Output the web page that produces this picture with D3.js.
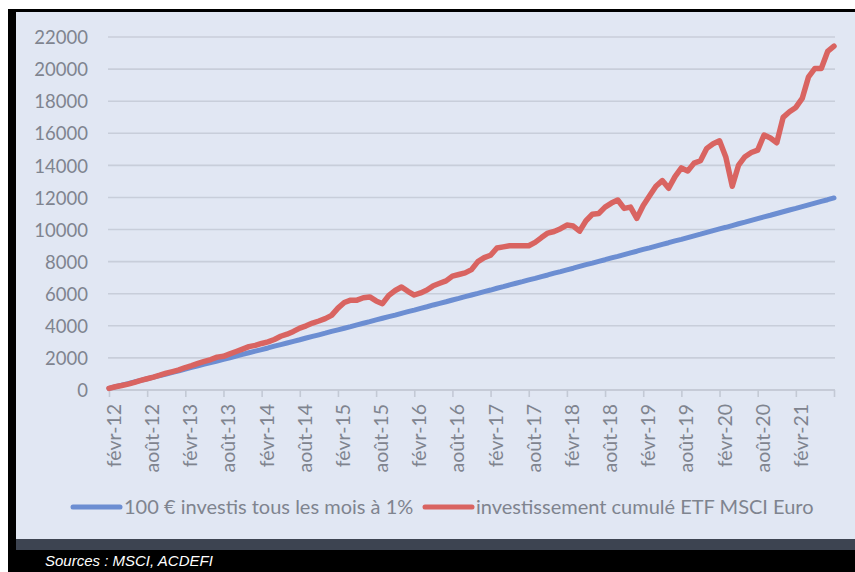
<!DOCTYPE html>
<html>
<head>
<meta charset="utf-8">
<script src="https://cdn.jsdelivr.net/npm/d3@7"></script>
<style>
  html, body { margin: 0; padding: 0; background: #ffffff; }
  svg { display: block; }
</style>
</head>
<body>
<svg id="chart" width="855" height="572"></svg>
<script>
// ---- DATA ----
const tickLabels = ["févr-12","août-12","févr-13","août-13","févr-14","août-14","févr-15","août-15",
  "févr-16","août-16","févr-17","août-17","févr-18","août-18","févr-19","août-19","févr-20","août-20","févr-21"];

const yTicks = [0,2000,4000,6000,8000,10000,12000,14000,16000,18000,20000,22000];

const seriesNames = ["100 € investis tous les mois à 1%", "investissement cumulé ETF MSCI Euro"];

// monthly values, févr-12 .. août-21 (115 months)
const investis = [
  100,200,300,400,500,600,700,800,900,1000,1100,1200,1310,1410,1510,1610,1710,1810,1910,2010,
  2120,2220,2320,2420,2520,2620,2730,2830,2930,3030,3130,3240,3340,3440,3540,3650,3750,3850,3950,4060,
  4160,4260,4370,4470,4570,4670,4780,4880,4980,5090,5190,5300,5400,5500,5610,5710,5820,5920,6020,6130,
  6230,6340,6440,6550,6650,6750,6860,6960,7070,7170,7280,7380,7490,7590,7700,7810,7910,8020,8120,8230,
  8330,8440,8550,8650,8760,8860,8970,9080,9180,9290,9390,9500,9610,9710,9820,9930,10040,10140,10250,10360,
  10460,10570,10680,10790,10890,11000,11110,11220,11320,11430,11540,11650,11760,11860,11970
];

const etf = [
  100,200,280,370,480,600,700,800,920,1050,1150,1250,1400,1520,1660,1780,1900,2050,2100,2250,
  2400,2550,2700,2780,2900,3000,3150,3350,3480,3650,3860,4000,4170,4300,4450,4650,5100,5450,5600,5600,
  5750,5800,5550,5380,5900,6200,6420,6150,5920,6050,6230,6500,6650,6800,7100,7200,7300,7500,8000,8250,
  8400,8850,8920,8990,8990,8990,8990,9200,9500,9780,9880,10050,10280,10220,9900,10550,10950,11000,11400,11650,
  11840,11320,11400,10700,11500,12100,12700,13050,12570,13300,13840,13650,14140,14290,15060,15350,15530,14500,12700,14020,
  14540,14800,14950,15890,15700,15410,16990,17340,17610,18170,19520,20040,20040,21100,21430
];

// ---- LAYOUT ----
const W = 855, H = 572;
const svg = d3.select("#chart");

// outer frame
svg.append("rect").attr("x", 8).attr("y", 9).attr("width", W - 8).attr("height", H - 9).attr("fill", "#000000");
svg.append("rect").attr("x", 16).attr("y", 12).attr("width", W - 16).attr("height", 527).attr("fill", "#E1E7F3");
svg.append("rect").attr("x", 16).attr("y", 539).attr("width", W - 16).attr("height", 11).attr("fill", "#3D4451");

const x = d3.scaleLinear().domain([0, investis.length - 1]).range([109, 834]);
const y = d3.scaleLinear().domain([0, 22000]).range([390, 37]);

const textColor = "#7F848F";
const font = "Lato, 'Open Sans', sans-serif";

// gridlines
svg.append("g")
  .selectAll("line")
  .data(yTicks)
  .join("line")
  .attr("x1", 108).attr("x2", 835)
  .attr("y1", d => y(d)).attr("y2", d => y(d))
  .attr("stroke", "#C8CEDA")
  .attr("stroke-width", 1.6);

// y axis labels
const yAxis = d3.axisLeft(y).tickValues(yTicks).tickSize(0).tickPadding(0).tickFormat(d3.format("d"));
const gy = svg.append("g").attr("transform", "translate(88,0)").call(yAxis);
gy.select(".domain").remove();
gy.selectAll("text")
  .attr("fill", textColor)
  .style("font-family", font)
  .style("font-size", "18.5px")
  .attr("x", 0)
  .attr("dy", "0.36em");

// x axis
const tickIdx = d3.range(0, investis.length, 6);
const xAxis = d3.axisBottom(x).tickValues(tickIdx).tickSize(7).tickFormat(i => tickLabels[i / 6] || "");
const gx = svg.append("g").attr("transform", "translate(0,390)").call(xAxis);
gx.select(".domain").attr("stroke", "#C3C9D5").attr("stroke-width", 1.6).attr("d", `M108,0H835`);
gx.selectAll(".tick line").attr("stroke", "#C3C9D5").attr("stroke-width", 1.6);
gx.selectAll("text")
  .attr("fill", textColor)
  .style("font-family", font)
  .style("font-size", "19.5px")
  .attr("text-anchor", "end")
  .attr("transform", "translate(11.5,14) rotate(-90)")
  .attr("x", 0).attr("y", 0).attr("dy", 0);

// lines
const line = d3.line().x((d, i) => x(i)).y(d => y(d)).curve(d3.curveLinear);
svg.append("path").datum(investis)
  .attr("d", line).attr("fill", "none")
  .attr("stroke", "#6C8ED2").attr("stroke-width", 5)
  .attr("stroke-linejoin", "round").attr("stroke-linecap", "round");
svg.append("path").datum(etf)
  .attr("d", line).attr("fill", "none")
  .attr("stroke", "#D96461").attr("stroke-width", 5.5)
  .attr("stroke-linejoin", "round").attr("stroke-linecap", "round");

// legend
const legend = [
  { name: seriesNames[0], color: "#6C8ED2", x0: 71 },
  { name: seriesNames[1], color: "#D96461", x0: 423 }
];
const lg = svg.append("g");
legend.forEach(l => {
  lg.append("line").attr("x1", l.x0 + 2).attr("x2", l.x0 + 49).attr("y1", 507).attr("y2", 507)
    .attr("stroke", l.color).attr("stroke-width", 5).attr("stroke-linecap", "round");
  lg.append("text").attr("x", l.x0 + 53).attr("y", 513.5)
    .attr("fill", textColor).style("font-family", font).style("font-size", "20px")
    .text(l.name);
});

// source
svg.append("text").attr("x", 45).attr("y", 566)
  .attr("fill", "#ffffff")
  .style("font-family", "'Liberation Sans', Arial, sans-serif")
  .style("font-style", "italic")
  .style("font-size", "15px")
  .text("Sources : MSCI, ACDEFI");
</script>
</body>
</html>
